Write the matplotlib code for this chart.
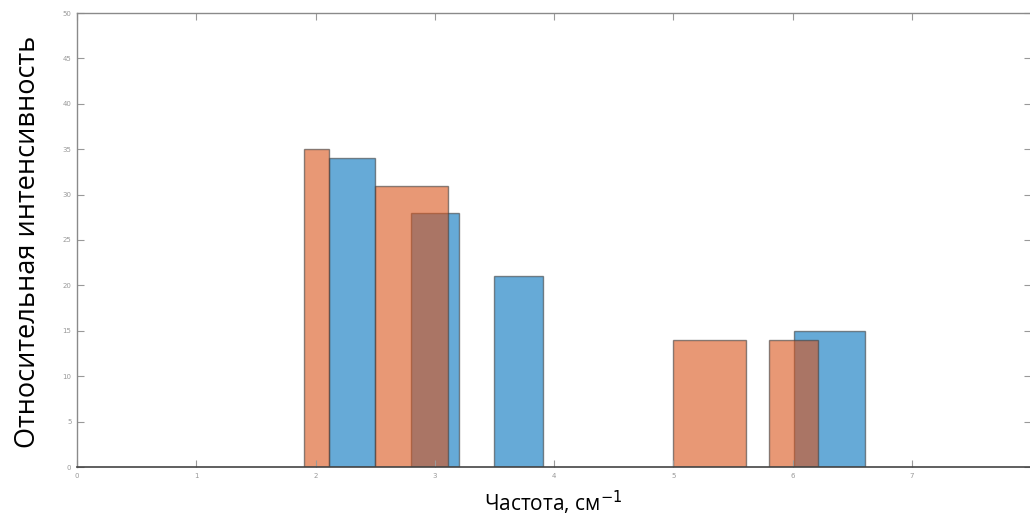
import matplotlib
matplotlib.use("Agg")
import matplotlib.pyplot as plt

# Data (bin edges and heights)
orange_left = [1.90, 2.50, 5.00, 5.80]
orange_right = [2.11, 3.11, 5.61, 6.21]
orange_height = [35, 31, 14, 14]

blue_left = [2.11, 2.80, 3.50, 6.01]
blue_right = [2.50, 3.20, 3.91, 6.61]
blue_height = [34, 28, 21, 15]

x_ticks = [0, 1, 2, 3, 4, 5, 6, 7, 8]
x_tick_labels = ['0', '1', '2', '3', '4', '5', '6', '7', '']
y_ticks = [0, 5, 10, 15, 20, 25, 30, 35, 40, 45, 50]

xlabel = "Частота, см$^{-1}$"
ylabel = "Относительная интенсивность"

W, H = 1030, 526
fig = plt.figure(figsize=(W / 100, H / 100), dpi=100)
ax = fig.add_axes([77 / W, (H - 467) / H, 954 / W, 454 / H])

blue = (0.0, 0.447, 0.741, 0.6)
orange = (0.85, 0.325, 0.098, 0.6)
edge = (0.25, 0.25, 0.25, 0.6)

ax.bar(blue_left, blue_height, width=[r - l for l, r in zip(blue_left, blue_right)],
       align='edge', color=blue, edgecolor=edge, linewidth=1.0)
ax.bar(orange_left, orange_height, width=[r - l for l, r in zip(orange_left, orange_right)],
       align='edge', color=orange, edgecolor=edge, linewidth=1.0)

ax.set_xlim(0, 8)
ax.set_ylim(0, 50)
ax.set_xticks(x_ticks)
ax.set_xticklabels(x_tick_labels)
ax.set_yticks(y_ticks)
ax.tick_params(direction='in', length=5, width=0.8, colors='#999999',
               labelsize=5, top=True, right=True, pad=4)
for s in ['left', 'top', 'right']:
    ax.spines[s].set_color('#8a8a8a')
    ax.spines[s].set_linewidth(1.0)
ax.spines['bottom'].set_color('#444444')
ax.spines['bottom'].set_linewidth(1.2)

fig.text(28 / W, 1 - 242 / H, ylabel, rotation=90, ha='center', va='center',
         fontsize=19.5, family='Open Sans', color='black')
fig.text(553 / W, 1 - 503 / H, xlabel, ha='center', va='center',
         fontsize=15, family='Open Sans', color='black')

fig.savefig("out.png", dpi=100, facecolor='white')
